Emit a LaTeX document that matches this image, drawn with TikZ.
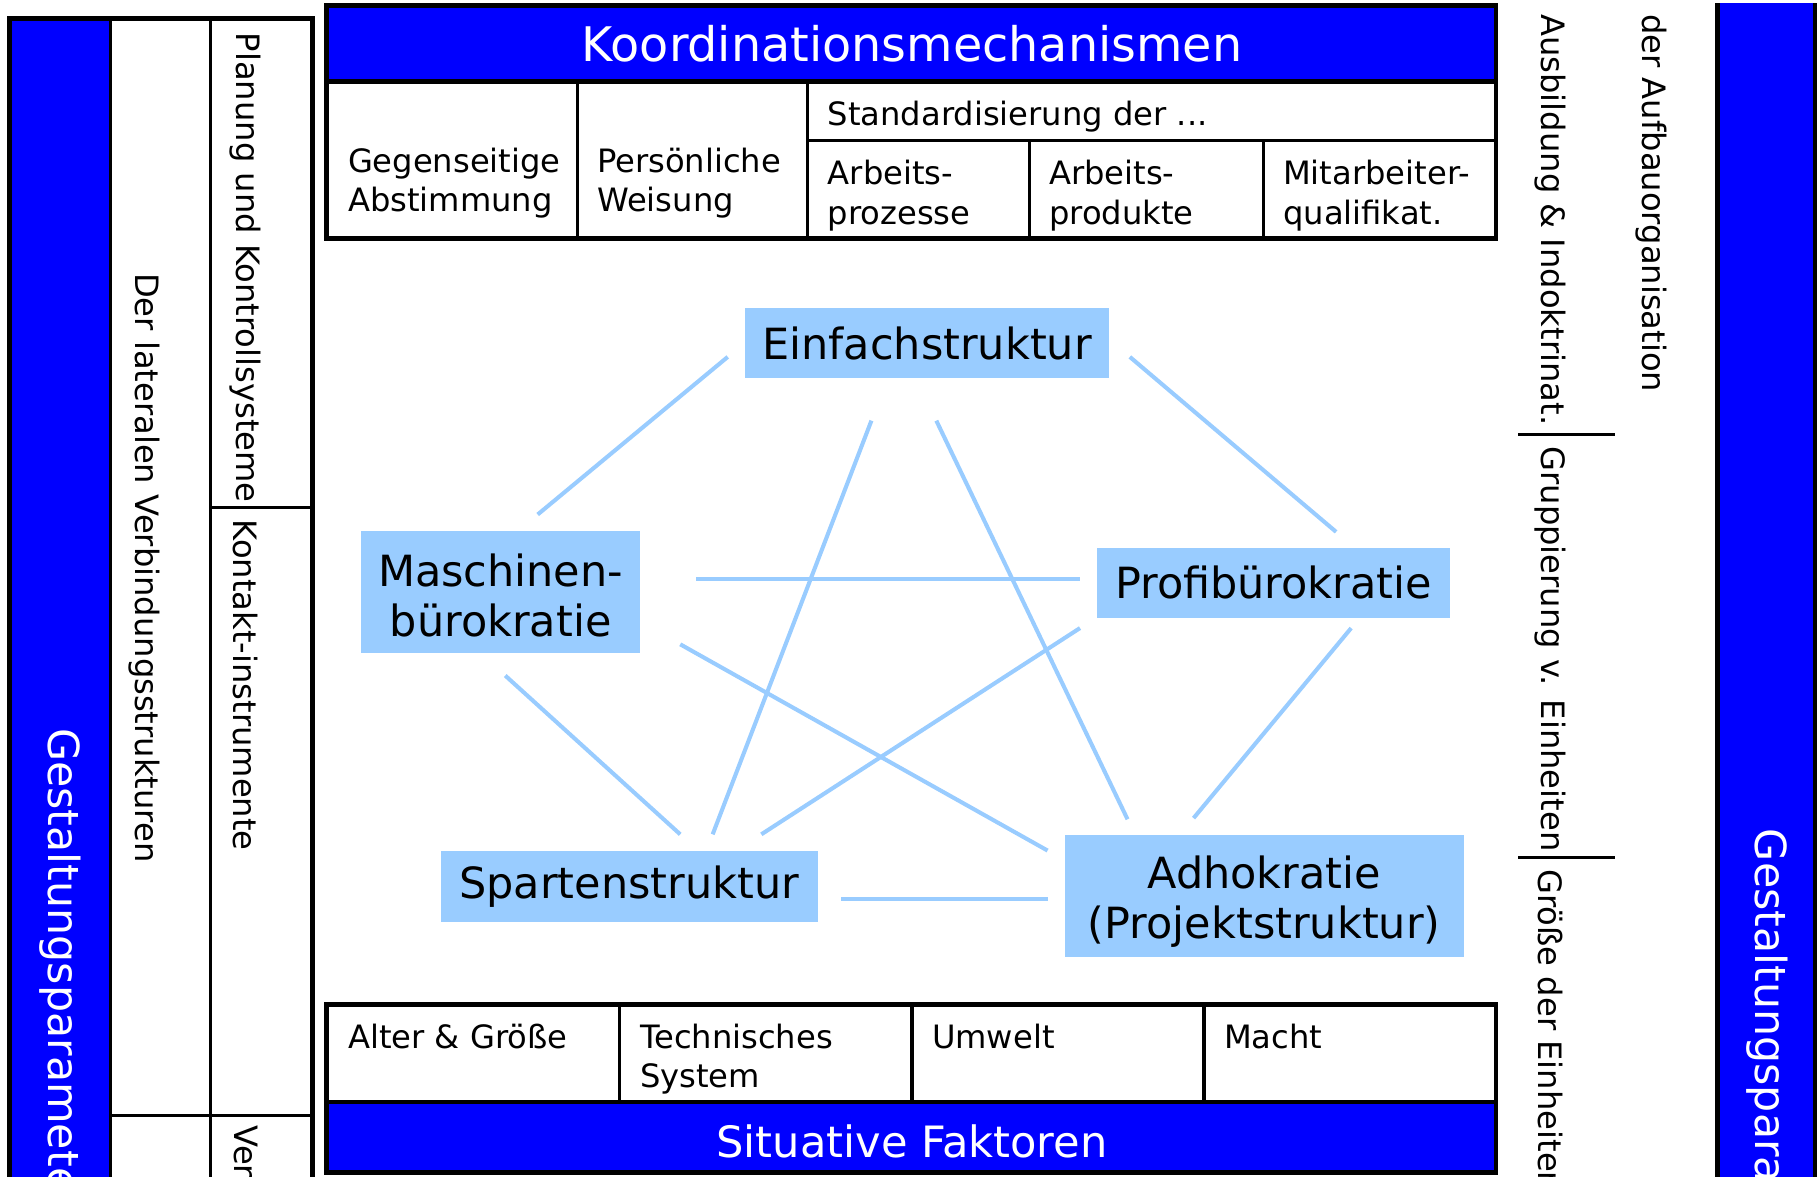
\documentclass[tikz,border=0pt]{standalone}
\usepackage{fontspec}
\setmainfont{DejaVu Sans}
\usepackage{tikz}
\usetikzlibrary{positioning}

\definecolor{headblue}{RGB}{0,0,255}
\definecolor{strucblue}{RGB}{153,204,255}
\newlength\pxu
\setlength\pxu{0.2mm}

\begin{document}
\begin{tikzpicture}[x=0.2mm,y=-0.2mm,
  frame/.style={line width=2.4pt},
  rule/.style={line width=1.5pt},
  cell/.style={inner sep=0pt,align=left,font=\fontsize{15.8}{19.4}\selectfont},
  vcell/.style={cell,rotate=-90,anchor=west},
  head/.style={inner sep=0pt,text=white,font=\fontsize{23.4}{27}\selectfont},
  vhead/.style={vcell,text=white,font=\fontsize{21}{25}\selectfont},
  struct/.style={fill=strucblue,inner sep=0pt,align=center,font=\fontsize{21.1}{24.6}\selectfont},
  link/.style={strucblue,line width=2pt}]
  \useasboundingbox (0,0) rectangle (1568,1015);
  \clip (0,0) rectangle (1568,1015);

  % left block
  \fill[headblue] (8,16) rectangle (95,1030);
  \draw[rule] (95,16) -- (95,1030) (182,16) -- (182,1030);
  \draw[rule] (182,438) -- (270,438) (95,963) -- (270,963);
  \draw[frame] (8,1030) -- (8,16) -- (270,16) -- (270,1030);
  \node[vhead] (gpl) at (52,628) {Gestaltungsparameter};
  \node[cell,rotate=-90] (lat) at (125,490) {Der lateralen Verbindungsstrukturen};
  \node[vcell] (plan) at (212,28) {Planung und Kontrollsysteme};
  \node[vcell] (kont) at (212,448) {Kontakt-instrumente};
  \node[vcell] (ver) at (212,971) {Ver};

  % top table
  \fill[headblue] (282,5) rectangle (1291,70);
  \node[head] (koord) at (787,38) {Koordinationsmechanismen};
  \draw[frame] (282,70) -- (1291,70);
  \draw[rule] (498,70) -- (498,206) (697,70) -- (697,206)
    (697,121) -- (1291,121) (888,121) -- (888,206) (1090,121) -- (1090,206);
  \draw[frame] (282,5) rectangle (1291,206);
  \node[cell,anchor=west] (gegen) at (300,158) {Gegenseitige\\Abstimmung};
  \node[cell,anchor=west] (pers) at (515,158) {Persönliche\\Weisung};
  \node[cell,anchor=base west] (stand) at (714,108) {Standardisierung der ...};
  \node[cell,anchor=west] (proz) at (714,169) {Arbeits-\\prozesse};
  \node[cell,anchor=west] (prod) at (905,169) {Arbeits-\\produkte};
  \node[cell,anchor=west] (quali) at (1107,169) {Mitarbeiter-\\qualifikat.};

  % bottom table
  \fill[headblue] (282,951) rectangle (1291,1012);
  \draw[frame] (282,951) -- (1291,951);
  \draw[rule] (535,867) -- (535,951) (787,867) -- (787,951) (1039,867) -- (1039,951);
  \draw[frame] (282,867) rectangle (1291,1012);
  \node[cell,anchor=base west] (alter) at (300,905) {Alter \& Größe};
  \node[cell,anchor=west] (tech) at (552,914) {Technisches\\System};
  \node[cell,anchor=base west] (umw) at (804,905) {Umwelt};
  \node[cell,anchor=base west] (macht) at (1056,905) {Macht};
  \node[head,font=\fontsize{21.2}{25}\selectfont] (sit) at (787,985) {Situative Faktoren};

  % right side
  \node[vcell] (ausb) at (1338,12) {Ausbildung \& Indoktrinat.};
  \node[vcell] (grup) at (1338,385) {Gruppierung v. Einheiten};
  \node[vcell] (groe) at (1338,750) {Größe der Einheiten};
  \draw[rule] (1310,375) -- (1394,375) (1310,740) -- (1394,740);
  \node[vcell] (aufb) at (1425,12) {der Aufbauorganisation};
  \fill[headblue] (1482,3) rectangle (1570,1030);
  \draw[frame] (1482,3) -- (1482,1030) (1567,3) -- (1567,1030);
  \node[vhead] (gpr) at (1525,715) {Gestaltungsparameter};

  % structures
  \node[struct,minimum width=314\pxu,minimum height=60\pxu] (einf) at (800,296) {Einfachstruktur};
  \node[struct,minimum width=241\pxu,minimum height=105\pxu] (masch) at (432,511) {\rule{0pt}{19pt}Maschinen-\\bürokratie};
  \node[struct,minimum width=305\pxu,minimum height=60\pxu] (profi) at (1099,503) {Profibürokratie};
  \node[struct,minimum width=325\pxu,minimum height=61\pxu] (spart) at (543,765) {Spartenstruktur};
  \node[struct,minimum width=344\pxu,minimum height=105\pxu] (adho) at (1091,773) {\rule{0pt}{22pt}Adhokratie\\(Projektstruktur)};

  \draw[link] ([shift={(-172,12)}]einf.center) -- ([shift={(32,-67)}]masch.center);
  \draw[link] ([shift={(175,12)}]einf.center) -- ([shift={(54,-44)}]profi.center);
  \draw[link] ([shift={(-48,67)}]einf.center) -- ([shift={(72,-45)}]spart.center);
  \draw[link] ([shift={(8,67)}]einf.center) -- ([shift={(-118,-66)}]adho.center);
  \draw[link] ([shift={(169,-11)}]masch.center) -- ([shift={(-167,-3)}]profi.center);
  \draw[link] ([shift={(4,72)}]masch.center) -- ([shift={(44,-45)}]spart.center);
  \draw[link] ([shift={(155,45)}]masch.center) -- ([shift={(-187,-39)}]adho.center);
  \draw[link] ([shift={(-167,39)}]profi.center) -- ([shift={(114,-45)}]spart.center);
  \draw[link] ([shift={(67,39)}]profi.center) -- ([shift={(-61,-67)}]adho.center);
  \draw[link] ([shift={(183,11)}]spart.center) -- ([shift={(-187,3)}]adho.center);
\end{tikzpicture}
\end{document}
